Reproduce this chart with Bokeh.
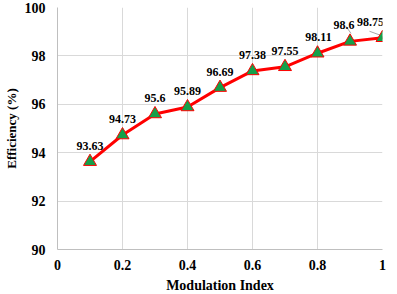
from bokeh.plotting import figure
from bokeh.models import ColumnDataSource, FixedTicker, Range1d
from bokeh.core.properties import value
from bokeh.embed import file_html
from bokeh.resources import INLINE

modulation_index = [0.1, 0.2, 0.3, 0.4, 0.5, 0.6, 0.7, 0.8, 0.9, 1.0]
efficiency = [93.63, 94.73, 95.6, 95.89, 96.69, 97.38, 97.55, 98.11, 98.6, 98.75]
point_labels = ["93.63", "94.73", "95.6", "95.89", "96.69", "97.38", "97.55", "98.11", "98.6", "98.75"]
x_ticks = [0, 0.2, 0.4, 0.6, 0.8, 1.0]
x_tick_labels = ["0", "0.2", "0.4", "0.6", "0.8", "1"]
y_ticks = [90, 92, 94, 96, 98, 100]
y_tick_labels = ["90", "92", "94", "96", "98", "100"]

FONT_NAME = "Liberation Serif"
FONT = value(FONT_NAME)

p = figure(frame_width=325, frame_height=242, output_backend="svg", toolbar_location=None,
           x_range=Range1d(0, 1), y_range=Range1d(90, 100),
           min_border_left=50, min_border_right=6, min_border_top=7, min_border_bottom=40)
p.outline_line_color = None
p.background_fill_color = "white"
p.border_fill_color = "white"

for ax in (p.xaxis[0], p.yaxis[0]):
    ax.major_tick_line_color = None
    ax.minor_tick_line_color = None
    ax.major_tick_out = 0
    ax.major_tick_in = 0
    ax.minor_tick_out = 0
    ax.minor_tick_in = 0
    ax.axis_line_color = "#bfbfbf"
    ax.axis_line_width = 1
    ax.major_label_text_font = FONT_NAME
    ax.major_label_text_font_style = "bold"
    ax.major_label_text_font_size = "14px"
    ax.major_label_text_color = "black"
    ax.axis_label_text_font = FONT_NAME
    ax.axis_label_text_font_style = "bold"
    ax.axis_label_text_font_size = "13px"
    ax.axis_label_text_color = "black"

p.xaxis.ticker = FixedTicker(ticks=x_ticks)
p.yaxis.ticker = FixedTicker(ticks=y_ticks)
p.xaxis.major_label_overrides = dict(zip(x_ticks, x_tick_labels))
p.yaxis.major_label_overrides = dict(zip(y_ticks, y_tick_labels))
p.xaxis.axis_label = "Modulation Index"
p.yaxis.axis_label = "Efficiency (%)"
p.xaxis.major_label_standoff = 10
p.yaxis.major_label_standoff = 12
p.xaxis.axis_label_standoff = 5
p.yaxis.axis_label_standoff = 3
p.xaxis.axis_label_text_font_size = "14px"

p.xgrid.grid_line_color = "#d9d9d9"
p.ygrid.grid_line_color = "#d9d9d9"

src = ColumnDataSource(dict(x=modulation_index, y=efficiency, label=point_labels))

# leader lines for the last two labels (derived from data points)
xs_scale = 1.0 / 325.0
ys_scale = 10.0 / 242.0
lead_idx = [8, 9]
lead_d = {8: (-4, 15, 1, 8), 9: (-13, 6.5, -2, 2.5)}
x0 = [modulation_index[i] + lead_d[i][0] * xs_scale for i in lead_idx]
y0 = [efficiency[i] + lead_d[i][1] * ys_scale for i in lead_idx]
x1 = [modulation_index[i] + lead_d[i][2] * xs_scale for i in lead_idx]
y1 = [efficiency[i] + lead_d[i][3] * ys_scale for i in lead_idx]
p.segment(x0=x0, y0=y0, x1=x1, y1=y1, line_color="#a6a6a6", line_width=1)

p.line("x", "y", source=src, line_color="#ff0000", line_width=3)
p.scatter("x", "y", source=src, marker="triangle", size=13,
          fill_color="#14a04a", line_color="#ff0000", line_width=1)

dx = [0, 0, 0, 0, 0, 0, 0, 1, -6, -12]
src_lab = ColumnDataSource(dict(x=modulation_index, y=efficiency, label=point_labels, dx=dx))
p.text("x", "y", text="label", source=src_lab, x_offset="dx", y_offset=-16,
       text_font=FONT, text_font_style="bold", text_font_size="12px",
       text_align="center", text_baseline="middle", text_color="black")

open("out.html", "w").write(file_html(p, INLINE))
